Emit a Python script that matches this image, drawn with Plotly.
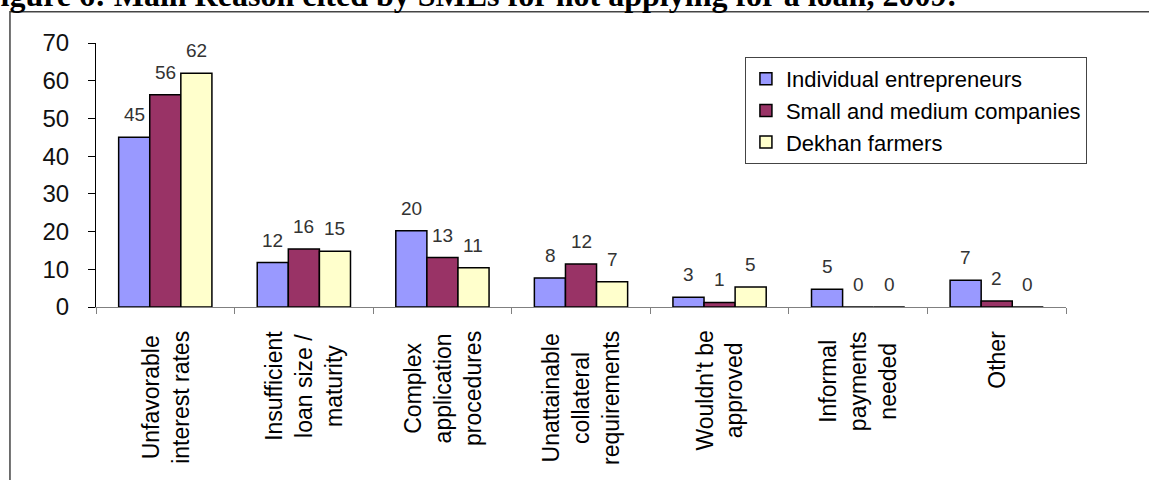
import plotly.graph_objects as go

categories = [
    "Unfavorable<br>interest rates",
    "Insufficient<br>loan size /<br>maturity",
    "Complex<br>application<br>procedures",
    "Unattainable<br>collateral<br>requirements",
    "Wouldn't be<br>approved",
    "Informal<br>payments<br>needed",
    "Other",
]
cat_keys = ["c%d" % i for i in range(len(categories))]

series_names = ["Individual entrepreneurs", "Small and medium companies", "Dekhan farmers"]
individual = [45, 11.8, 20.2, 7.7, 2.6, 4.7, 7.1]
small_medium = [56.3, 15.4, 13.1, 11.4, 1.2, 0, 1.6]
dekhan = [62, 14.8, 10.4, 6.7, 5.3, 0, 0]
individual_labels = ["45", "12", "20", "8", "3", "5", "7"]
small_medium_labels = ["56", "16", "13", "12", "1", "0", "2"]
dekhan_labels = ["62", "15", "11", "7", "5", "0", "0"]
y_ticks = [0, 10, 20, 30, 40, 50, 60, 70]

colors = ["#9999FF", "#993366", "#FFFFCC"]
values = [individual, small_medium, dekhan]
labels = [individual_labels, small_medium_labels, dekhan_labels]

FONT = "Liberation Sans, Arial, sans-serif"

fig = go.Figure()
for name, vals, col in zip(series_names, values, colors):
    fig.add_trace(go.Bar(
        x=cat_keys, y=vals, name=name,
        marker=dict(color=col, line=dict(color="black", width=1.5)),
        hoverinfo="skip",
    ))

annotations = []
# data labels
bar_px = 31
for si, (vals, labs) in enumerate(zip(values, labels)):
    for ck, v, t in zip(cat_keys, vals, labs):
        annotations.append(dict(
            x=ck, y=v, xref="x", yref="y", text=t, showarrow=False,
            xanchor="center", yanchor="bottom", xshift=(si - 1) * bar_px, yshift=10,
            font=dict(family=FONT, size=19, color="#333333"),
        ))
# category labels
for ck, c in zip(cat_keys, categories):
    annotations.append(dict(
        x=ck, y=0, xref="x", yref="paper", text=c, showarrow=False,
        textangle=-90, align="center", xanchor="center", yanchor="top", yshift=-22,
        font=dict(family=FONT, size=23, color="black"),
    ))
# title (partially cut at top)
annotations.append(dict(
    x=0, y=1, xref="paper", yref="paper", xanchor="left", yanchor="bottom",
    xshift=-117, yshift=27.5, showarrow=False,
    text="<b>Figure 6: Main Reason cited by SMEs for not applying for a loan, 2009:</b>",
    font=dict(family="Liberation Serif, Times New Roman, serif", size=32, color="black"),
))

fig.update_layout(
    width=1149, height=480,
    margin=dict(l=96, r=83, t=43, b=173, autoexpand=False),
    paper_bgcolor="white", plot_bgcolor="white",
    barmode="group", bargap=0.327, bargroupgap=0,
    showlegend=True,
    legend=dict(
        x=0.669, y=0.947, xanchor="left", yanchor="top",
        bgcolor="white", bordercolor="#444444", borderwidth=1,
        font=dict(family=FONT, size=22, color="black"),
        tracegroupgap=0, itemwidth=30,
    ),
    xaxis=dict(
        type="category", showline=True, linecolor="#808080", linewidth=1,
        ticks="outside", tickson="boundaries", ticklen=6, tickcolor="#808080",
        showticklabels=False, showgrid=False, zeroline=False, fixedrange=True,
    ),
    yaxis=dict(
        range=[0, 70], tickvals=y_ticks, ticktext=[str(v) for v in y_ticks],
        showline=True, linecolor="black", linewidth=1,
        ticks="outside", ticklen=7, tickcolor="black",
        ticklabelstandoff=14,
        tickfont=dict(family=FONT, size=24, color="#111111"),
        showgrid=False, zeroline=False, fixedrange=True,
    ),
    annotations=annotations,
    shapes=[dict(
        type="rect", xref="paper", yref="paper",
        x0=-0.0887, x1=1.3, y0=-0.9, y1=1.1186,
        line=dict(color="#444444", width=1.5), fillcolor="rgba(0,0,0,0)",
        layer="above",
    )],
)

fig.write_html("out.html")
